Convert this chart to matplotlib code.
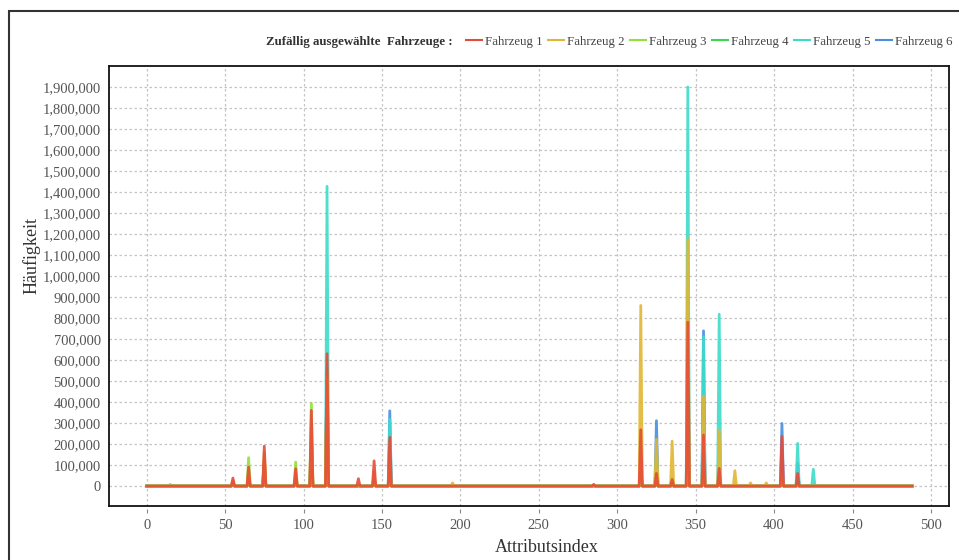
import matplotlib.pyplot as plt
import numpy as np
from matplotlib.patches import Rectangle
from matplotlib.ticker import FuncFormatter

# attribute index range
n_attr = 489

# peak positions and heights
peaks_1 = {55: 38000, 65: 90000, 75: 190000, 95: 82000, 105: 360000, 115: 630000,
           135: 35000, 145: 120000, 155: 232000, 285: 8000, 315: 268000, 325: 60000,
           335: 30000, 345: 780000, 355: 243000, 365: 84000, 405: 236000, 415: 60000}
peaks_2 = {55: 25000, 65: 70000, 75: 160000, 95: 55000, 105: 300000, 115: 520000,
           145: 70000, 155: 120000, 195: 15000, 315: 860000, 325: 222000, 335: 214000,
           345: 1175000, 355: 428000, 365: 266000, 375: 73000, 385: 15000, 395: 15000,
           405: 50000}
peaks_3 = {15: 8000, 55: 25000, 65: 135000, 75: 140000, 95: 114000, 105: 394000,
           115: 500000, 145: 50000, 155: 15000, 315: 60000, 325: 20000, 335: 15000,
           345: 150000, 355: 40000, 365: 30000, 405: 20000}
peaks_4 = {55: 15000, 65: 60000, 75: 120000, 95: 40000, 105: 250000, 115: 560000,
           145: 40000, 155: 20000, 315: 40000, 325: 15000, 345: 120000, 355: 60000,
           365: 40000, 405: 30000, 415: 20000}
peaks_5 = {55: 20000, 65: 35000, 75: 100000, 95: 30000, 105: 200000, 115: 1427000,
           145: 30000, 155: 318000, 315: 80000, 325: 150000, 335: 40000, 345: 1900000,
           355: 710000, 365: 818000, 405: 60000, 415: 203000, 425: 80000}
peaks_6 = {55: 15000, 65: 45000, 75: 80000, 95: 30000, 105: 150000, 115: 600000,
           145: 25000, 155: 358000, 315: 70000, 325: 311000, 335: 30000, 345: 900000,
           355: 739000, 365: 60000, 405: 298000, 415: 108000}

series_names = ['Fahrzeug 1', 'Fahrzeug 2', 'Fahrzeug 3', 'Fahrzeug 4', 'Fahrzeug 5', 'Fahrzeug 6']
series_peaks = [peaks_1, peaks_2, peaks_3, peaks_4, peaks_5, peaks_6]
colors = ['#e64b37', '#e2b632', '#93e03a', '#3ed45a', '#3ddcca', '#4a8ee0']

x_ticks = list(range(0, 501, 50))
y_ticks = list(range(0, 1900001, 100000))

plt.rcParams['font.family'] = ['Liberation Serif', 'DejaVu Serif']

fig = plt.figure(figsize=(9.59, 5.6), dpi=100)
ax = fig.add_axes([109 / 959, 1 - 506 / 560, 840 / 959, 440 / 560])

# outer frame
fig.patches.append(Rectangle((9 / 959, -0.1), 1.2, 1 - 11 / 560 + 0.1,
                             transform=fig.transFigure, fill=False,
                             edgecolor='#333333', linewidth=1.5))

x = np.arange(n_attr)
# draw last series first so Fahrzeug 1 sits on top
for name, peaks, color in reversed(list(zip(series_names, series_peaks, colors))):
    y = np.zeros(n_attr)
    for idx, val in peaks.items():
        y[idx] = val
    ax.plot(x, y, color=color, linewidth=2.0, alpha=0.9, label=name)

ax.set_xlim(-24, 511.5)
ax.set_ylim(-95000, 2000000)

ax.set_yticks(y_ticks)
ax.yaxis.set_major_formatter(FuncFormatter(lambda v, p: f'{int(v):,}'))
ax.tick_params(axis='y', length=0, pad=6, labelsize=10.5, labelcolor='#555555')

ax.set_xticks(x_ticks)
ax.tick_params(axis='x', length=0, labelbottom=False)

sec = ax.secondary_xaxis(-3 / 440)
sec.set_xticks(x_ticks)
sec.spines['bottom'].set_visible(False)
sec.tick_params(length=3, color='#888888', pad=4, labelsize=10.5, labelcolor='#555555')

ax.grid(True, color='#c4c4c4', linestyle=(0, (2, 2)), linewidth=0.9)
for s in ax.spines.values():
    s.set_color('#111111')
    s.set_linewidth(1.3)

ax.set_xlabel('Attributsindex', fontsize=13, color='#333333', va='top')
ax.xaxis.set_label_coords(0.521, -0.074)
ax.set_ylabel('Häufigkeit', fontsize=13, color='#333333')
ax.yaxis.set_label_coords(-0.082, 0.57)

# legend
fig.text(266 / 959, 1 - 42 / 560, 'Zufällig ausgewählte  Fahrzeuge :', fontsize=9.3,
         fontweight='bold', color='#333333', ha='left', va='center')
handles, labels = ax.get_legend_handles_labels()
leg = fig.legend(handles[::-1], labels[::-1], loc='center left',
                 bbox_to_anchor=(466 / 959, 1 - 42 / 560), ncol=6, frameon=False,
                 fontsize=9.3, handlelength=1.2, handletextpad=0.25,
                 columnspacing=0.45, borderpad=0, borderaxespad=0)
for t in leg.get_texts():
    t.set_color('#444444')
for h in leg.legend_handles:
    h.set_alpha(1)
    h.set_linewidth(1.5)

plt.savefig('out.png', dpi=100)
